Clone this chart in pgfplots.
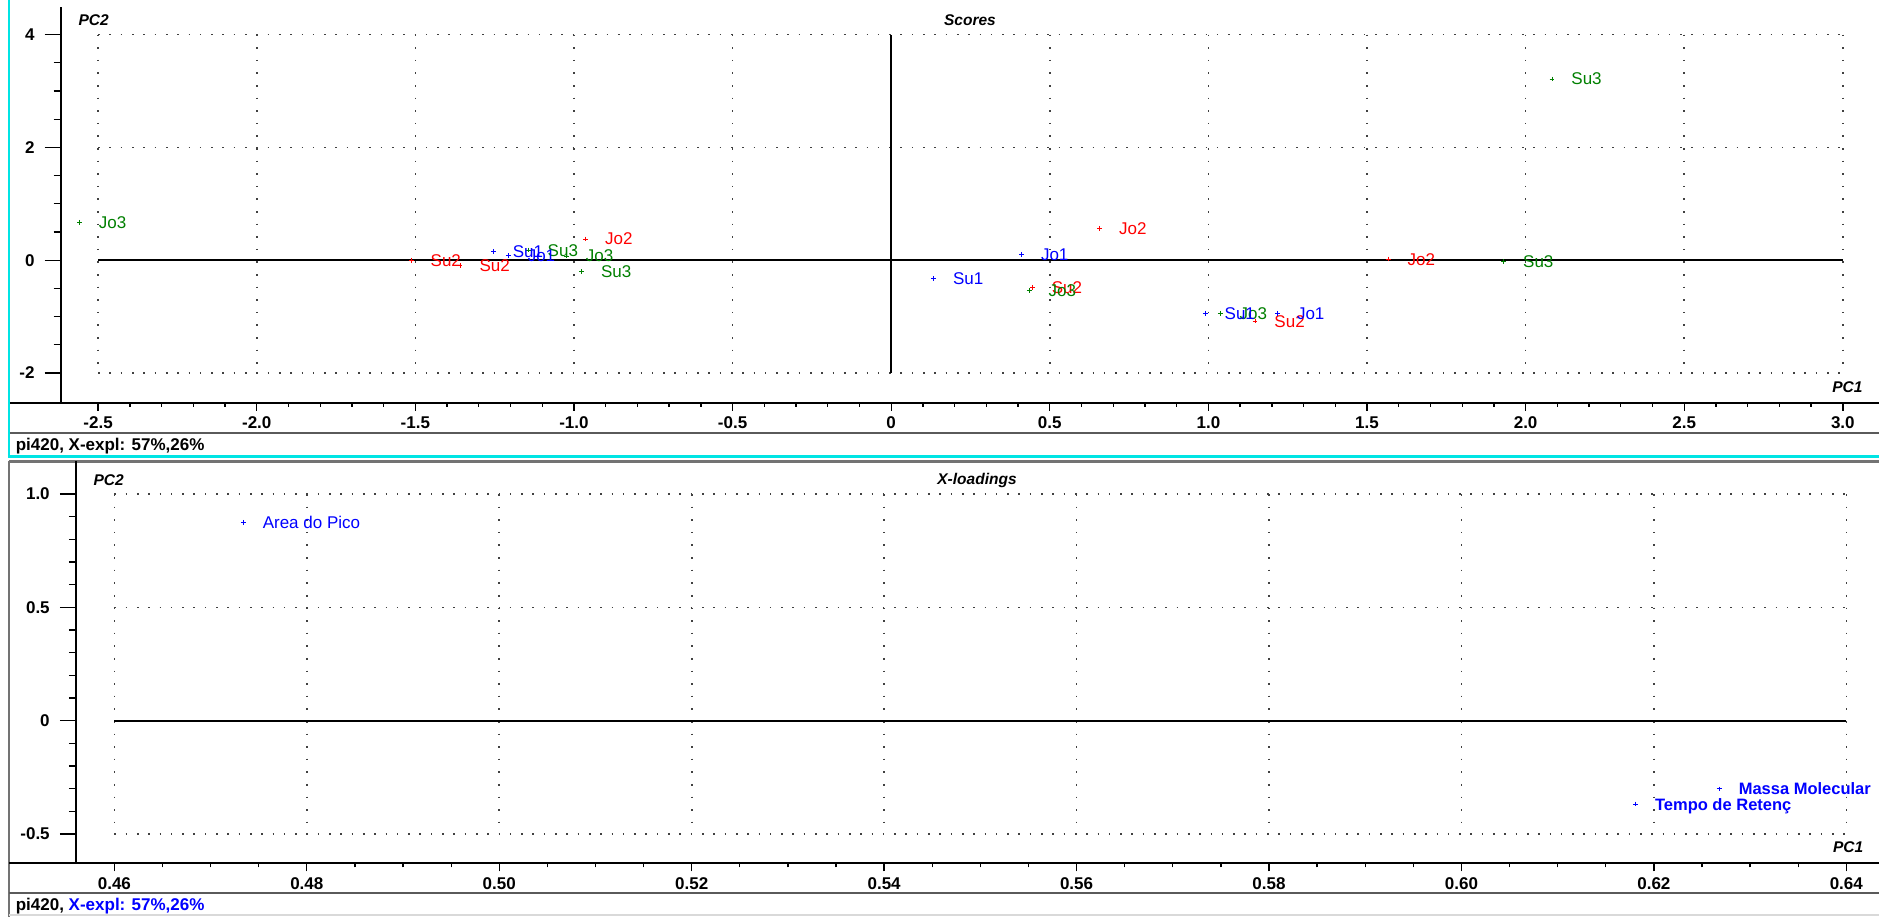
\documentclass[border=0pt]{standalone}
\usepackage{fontspec}
\setmainfont{Liberation Sans}
\usepackage{pgfplots}
\usepackage{pgfplotstable}
\pgfplotsset{compat=1.18}

\definecolor{winCyan}{RGB}{0,228,228}
\definecolor{ptBlue}{RGB}{0,0,255}
\definecolor{ptRed}{RGB}{255,0,0}
\definecolor{ptGreen}{RGB}{0,128,0}
\definecolor{frameGray}{RGB}{90,90,90}

\newcommand{\tickfont}{\fontsize{17bp}{20bp}\selectfont\bfseries}
\newcommand{\labfont}{\fontsize{17bp}{20bp}\selectfont}
\newcommand{\boldlabfont}{\fontsize{16.5bp}{20bp}\selectfont\bfseries}
\newcommand{\titlefont}{\fontsize{15.5bp}{19bp}\selectfont\bfseries\itshape}
\newcommand{\statusfont}{\fontsize{17bp}{20bp}\selectfont\bfseries}

% PCA scores (PC1, PC2) per group
\pgfplotstableread{
x y lab
-1.254 0.150 Su1
-1.207 0.080 Jo1
0.134 -0.327 Su1
0.411 0.104 Jo1
0.990 -0.940 Su1
1.218 -0.940 Jo1
}\scoresBlue
\pgfplotstableread{
x y lab
-1.513 0.000 Su2
-1.359 -0.100 Su2
-0.963 0.376 Jo2
0.445 -0.480 Su2
0.657 0.565 Jo2
1.147 -1.080 Su2
1.567 0.020 Jo2
}\scoresRed
\pgfplotstableread{
x y lab
-2.559 0.672 Jo3
-1.144 0.180 Su3
-1.024 0.075 Jo3
-0.976 -0.203 Su3
0.435 -0.540 Jo3
1.037 -0.940 Jo3
1.931 -0.026 Su3
2.083 3.213 Su3
}\scoresGreen

% X-loadings (PC1, PC2)
\pgfplotstableread[col sep=comma]{
x,y,lab
0.4734,0.876,Area do Pico
}\loadRegular
\pgfplotstableread[col sep=comma]{
x,y,lab
0.6268,-0.301,Massa Molecular
0.6181,-0.368,Tempo de Retenç
}\loadBold

\tikzset{
  gridh/.style={black!75, line width=1.6bp, dash pattern=on 1.6bp off 9.7bp},
  gridv/.style={black!75, line width=1.6bp, dash pattern=on 1.6bp off 11bp},
  zeroline/.style={black, line width=1.8bp},
}

\pgfplotsset{
  panel/.style={
    scale only axis, anchor=south west, clip=false,
    axis line style={draw=none},
    tick align=outside,
    xtick pos=left, ytick pos=left,
    tick style={black, line width=1.3bp},
    xticklabel style={font=\tickfont, inner sep=0pt},
    yticklabel style={font=\tickfont, inner sep=0pt},
  },
  topgeom/.style={at={(60.7bp,514.3bp)}, width=1818.3bp, height=395.7bp,
    xmin=-2.618, xmax=3.114, ymin=-2.527, ymax=4.49},
  botgeom/.style={at={(75.9bp,53.7bp)}, width=1803.1bp, height=401.3bp,
    xmin=0.456, xmax=0.6434, ymin=-0.6293, ymax=1.1417},
  scorepts/.style={only marks, mark=+, mark size=2.4bp, line width=0.9bp,
    color=#1, nodes near coords, point meta=explicit symbolic,
    nodes near coords style={anchor=base west, inner sep=0pt,
      xshift=19bp, yshift=-6bp, font=\labfont, text=#1}},
}

\begin{document}
\begin{tikzpicture}[x=1bp,y=1bp]
\fill[white] (0,0) rectangle (1879,917);
\path[use as bounding box] (0,0) rectangle (1879,917);

% ---------------- Scores ----------------
\begin{axis}[panel, topgeom,
  xtick=\empty,
  ytick={-2,0,2,4}, yticklabels={-2,0,2,4},
  minor ytick={-1.5,-1,-0.5,0.5,1,1.5,2.5,3,3.5},
  major tick length=16bp, minor tick length=7bp,
  yticklabel style={anchor=east, xshift=-10bp},
]
\pgfplotsinvokeforeach{-2.5,-2,-1.5,-1,-0.5,0.5,1,1.5,2,2.5,3}{
  \draw[gridv] (axis cs:#1,4) -- (axis cs:#1,-2);
}
\pgfplotsinvokeforeach{-2,2,4}{
  \draw[gridh] (axis cs:-2.5,#1) -- (axis cs:3,#1);
}
\draw[zeroline] (axis cs:-2.5,0) -- (axis cs:3,0);
\draw[zeroline] (axis cs:0,-2) -- (axis cs:0,4);
\addplot[scorepts=ptRed] table[meta=lab] {\scoresRed};
\addplot[scorepts=ptGreen] table[meta=lab] {\scoresGreen};
\addplot[scorepts=ptBlue] table[meta=lab] {\scoresBlue};
\end{axis}
\begin{axis}[panel, topgeom,
  ytick=\empty,
  xtick={-2.5,-2,-1.5,-1,-0.5,0,0.5,1,1.5,2,2.5,3},
  xticklabels={-2.5,-2.0,-1.5,-1.0,-0.5,0,0.5,1.0,1.5,2.0,2.5,3.0},
  minor x tick num=4,
  major tick length=8bp, minor tick length=4bp,
  xticklabel style={anchor=north, yshift=-6bp},
]
\end{axis}

% ---------------- X-loadings ----------------
\begin{axis}[panel, botgeom,
  xtick=\empty,
  ytick={-0.5,0,0.5,1}, yticklabels={-0.5,0,0.5,1.0},
  minor y tick num=4,
  major tick length=16bp, minor tick length=7bp,
  yticklabel style={anchor=east, xshift=-10bp},
]
\pgfplotsinvokeforeach{0.46,0.48,0.50,0.52,0.54,0.56,0.58,0.60,0.62,0.64}{
  \draw[gridv] (axis cs:#1,1) -- (axis cs:#1,-0.5);
}
\pgfplotsinvokeforeach{-0.5,0.5,1}{
  \draw[gridh] (axis cs:0.46,#1) -- (axis cs:0.64,#1);
}
\draw[zeroline] (axis cs:0.46,0) -- (axis cs:0.64,0);
\addplot[scorepts=ptBlue] table[meta=lab] {\loadRegular};
\addplot[scorepts=ptBlue, nodes near coords style={font=\boldlabfont}] table[meta=lab] {\loadBold};
\end{axis}
\begin{axis}[panel, botgeom,
  ytick=\empty,
  xtick={0.46,0.48,0.50,0.52,0.54,0.56,0.58,0.60,0.62,0.64},
  xticklabels={0.46,0.48,0.50,0.52,0.54,0.56,0.58,0.60,0.62,0.64},
  minor x tick num=3,
  major tick length=8bp, minor tick length=4bp,
  xticklabel style={anchor=north, yshift=-6bp},
]
\end{axis}

% ---------------- window frames and axis lines ----------------
\draw[black, line width=1.8bp] (9,514.3) -- (1879,514.3);
\draw[black, line width=1.8bp] (60.7,514.3) -- (60.7,910);
\draw[frameGray, line width=1.6bp] (9,484) -- (1879,484);
\draw[winCyan, line width=2.6bp] (9,460.5) -- (1879,460.5);
\draw[winCyan, line width=2.6bp] (9,917) -- (9,459.2);
\draw[black!55, line width=2.4bp] (9,455.5) -- (1879,455.5);
\draw[black!55, line width=1.6bp] (9,455.5) -- (9,0);
\draw[black, line width=1.8bp] (9,53.7) -- (1879,53.7);
\draw[black, line width=1.8bp] (75.9,53.7) -- (75.9,455.5);
\draw[frameGray, line width=1.6bp] (9,23.7) -- (1879,23.7);
\draw[black!15, line width=1.5bp] (9,2) -- (1879,2);

% ---------------- titles and status lines ----------------
\node[font=\titlefont, anchor=base] at (970,891.3) {Scores};
\node[font=\titlefont, anchor=base west] at (75,891) {PC2};
\node[font=\titlefont, anchor=base east] at (1866,524.6) {PC1};
\node[font=\titlefont, anchor=base] at (977,432.3) {X-loadings};
\node[font=\titlefont, anchor=base west] at (90,431.3) {PC2};
\node[font=\titlefont, anchor=base east] at (1866.7,64.6) {PC1};
\node[font=\statusfont, anchor=base west, inner sep=0pt] at (15.6,466) {pi420, X-expl: 57\%,26\%};
\node[font=\statusfont, anchor=base west, inner sep=0pt] at (15.6,6) {pi420, \textcolor{ptBlue}{X-expl: 57\%,26\%}};
\end{tikzpicture}
\end{document}
